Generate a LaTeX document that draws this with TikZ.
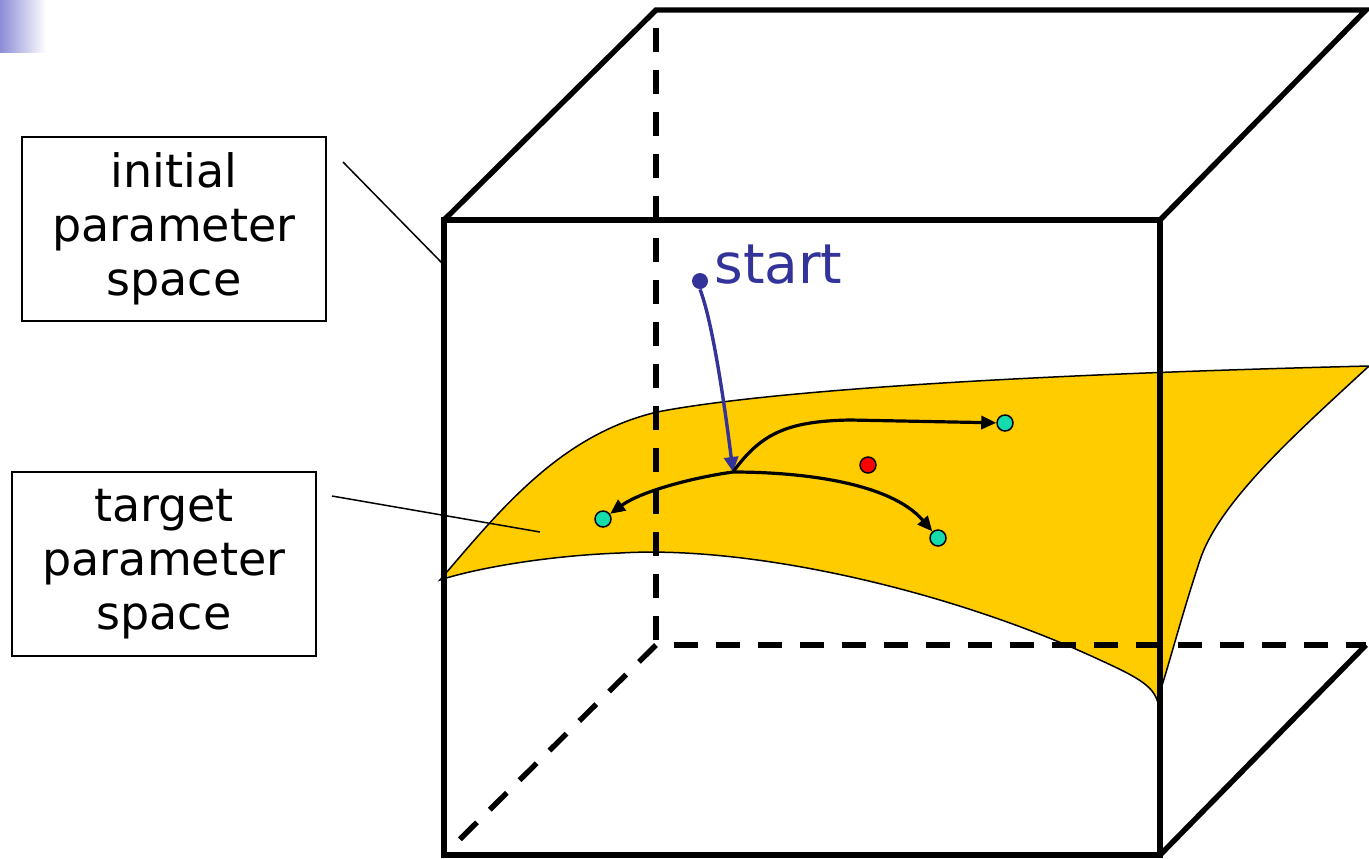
\documentclass[tikz,border=0pt]{standalone}
\usepackage{fontspec}
\setmainfont{DejaVu Sans}
\usetikzlibrary{arrows.meta}
\definecolor{surf}{HTML}{FFCC00}
\definecolor{startblue}{HTML}{333399}
\definecolor{mint}{RGB}{20,220,170}
\definecolor{cornerblue}{RGB}{140,140,215}
\begin{document}
\begin{tikzpicture}[x=0.5pt,y=-0.5pt,
  edge/.style={line width=2.7pt, line join=miter},
  hidden/.style={edge, dash pattern=on 12pt off 9pt},
  labelbox/.style={draw, line width=0.75pt, minimum width=152pt, minimum height=92pt,
    align=center, inner sep=0pt, font=\fontsize{23}{27}\selectfont},
  leader/.style={line width=0.75pt},
  dot/.style={circle, draw=black, line width=0.75pt, minimum size=8pt, inner sep=0pt},
  blk/.style={line width=1.6pt, -{Triangle[length=7.5pt,width=6.5pt]}},
  blu/.style={line width=1.7pt, startblue, -{Triangle[length=7.5pt,width=7pt]}}
]
\useasboundingbox (0,0) rectangle (1369,858);
\shade[left color=cornerblue, right color=white] (0,0) rectangle (46,52);

% target surface
\filldraw[fill=surf, draw=black, line width=0.75pt]
  (440,580) .. controls (500,510) and (560,435) .. (657,412)
  .. controls (760,392) and (1000,375) .. (1369,366)
  .. controls (1300,430) and (1220,500) .. (1200,560)
  .. controls (1180,620) and (1165,680) .. (1157,700)
  .. controls (1152,685) and (1135,676) .. (1100,660)
  .. controls (950,590) and (750,545) .. (620,553)
  .. controls (540,556) and (470,570) .. (440,580) -- cycle;

% cube
\coordinate (F1) at (444,220);
\coordinate (F2) at (1160,220);
\coordinate (F3) at (1160,855);
\coordinate (F4) at (444,855);
\coordinate (B1) at (656,10);
\coordinate (B2) at (1366,10);
\coordinate (B3) at (1366,645);
\coordinate (B4) at (656,645);
\draw[hidden, dash phase=12pt] (B1) -- (B4);
\draw[hidden, dash phase=12pt] (B4) -- (B3);
\draw[hidden] (B4) -- (F4);
\draw[edge] (F1) rectangle (F3);
\draw[edge] (F1) -- (B1) -- (B2) -- (F2);
\draw[edge] (F3) -- (B3);

% label boxes and leaders
\node[labelbox] (ini) at (174,229) {initial\\parameter\\space};
\node[labelbox] (tgt) at (164,564) {target\\parameter\\space};
\coordinate (iniA) at (343,162);
\coordinate (iniB) at (442,263);
\coordinate (tgtA) at (332,496);
\coordinate (tgtB) at (540,532);
\draw[leader] (iniA) -- (iniB);
\draw[leader] (tgtA) -- (tgtB);

% start
\node[circle, fill=startblue, minimum size=8pt, inner sep=0pt] (s) at (700,281) {};
\node[anchor=base west, text=startblue, inner sep=0pt, font=\fontsize{27.5}{32}\selectfont] (st) at (714,283) {start};
\coordinate (J) at (733,472);
\draw[blu] (s.south) .. controls (712,320) and (724,400) .. (J);

% dots
\node[dot, fill=mint] (g1) at (1005,423) {};
\node[dot, fill=mint] (g2) at (603,519) {};
\node[dot, fill=mint] (g3) at (938,538) {};
\node[dot, fill=red] (r) at (868,465) {};

\draw[blk] (J) .. controls (760,435) and (785,421) .. (850,420) -- (g1);
\draw[blk] (J) .. controls (690,478) and (640,492) .. (g2);
\draw[blk] (J) .. controls (800,472) and (890,482) .. (g3);
\end{tikzpicture}
\end{document}
